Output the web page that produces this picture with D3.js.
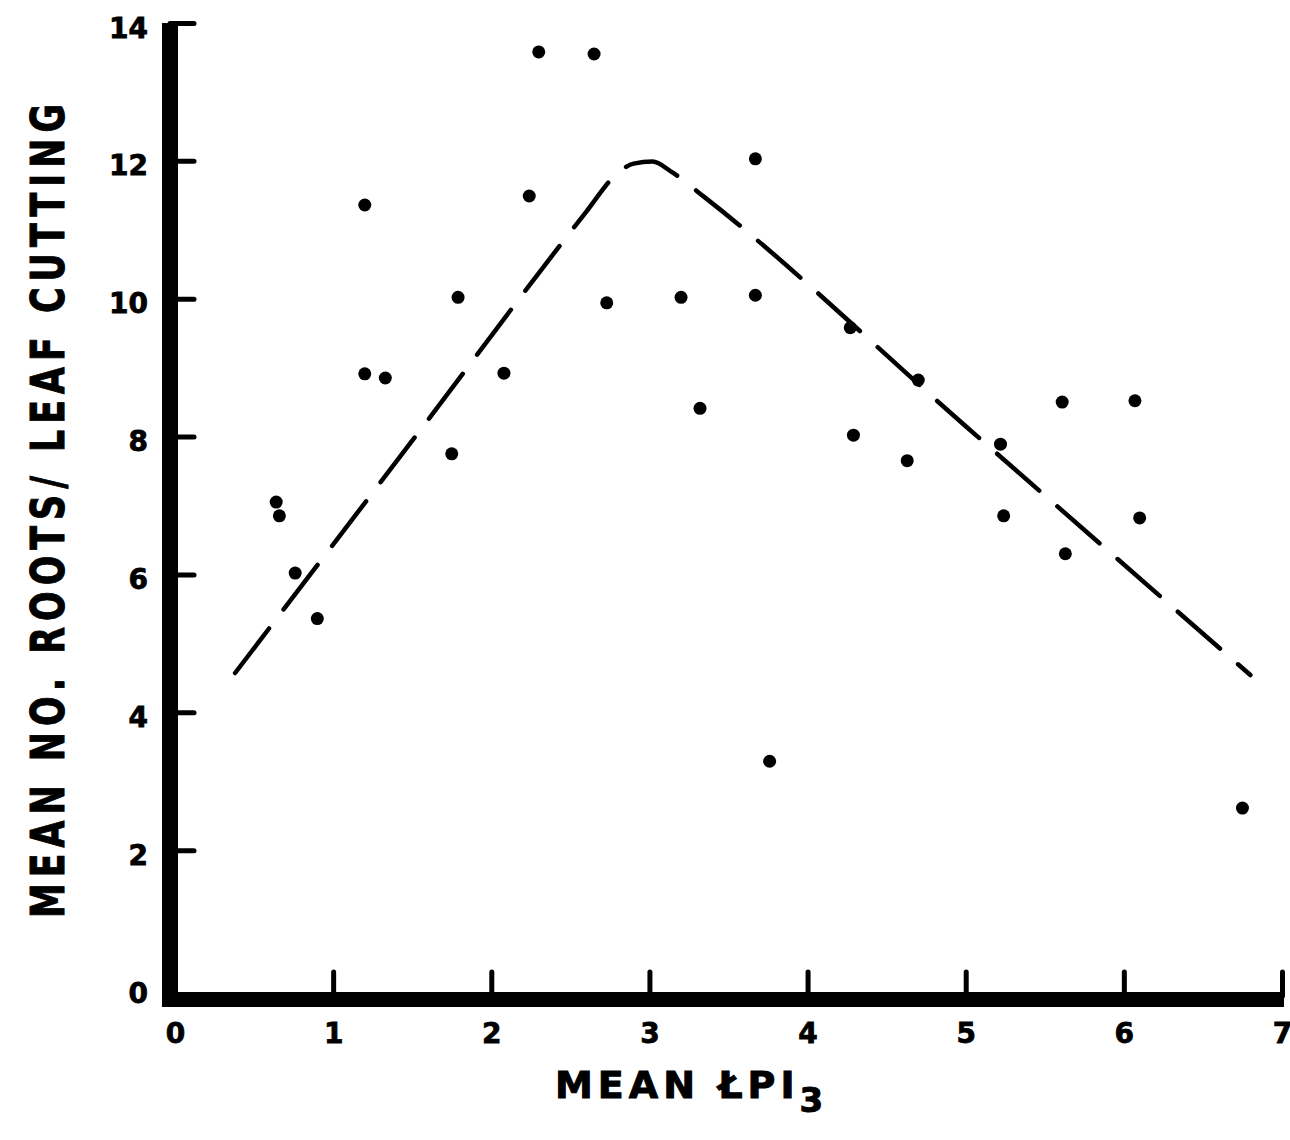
<!DOCTYPE html>
<html>
<head>
<meta charset="utf-8">
<script src="https://cdn.jsdelivr.net/npm/d3@7"></script>
<style>
  html, body { margin: 0; padding: 0; background: #ffffff; }
  svg { display: block; }
  .lbl { font-family: "DejaVu Sans", sans-serif; font-weight: bold; fill: #000; stroke: #000; }
</style>
</head>
<body>
<svg id="chart" width="1290" height="1140"></svg>
<script>
// Axis ticks
const xTicks = [0, 1, 2, 3, 4, 5, 6, 7];
const yTicks = [0, 2, 4, 6, 8, 10, 12, 14];

// Observed means: LPI3 (x) vs roots per leaf cutting (y)
const lpi = [0.64, 0.66, 0.76, 0.90, 1.20, 1.20, 1.33, 1.75, 1.79, 2.08, 2.24, 2.30,
             2.65, 2.73, 3.20, 3.32, 3.67, 3.67, 3.76, 4.27, 4.29, 4.63, 4.70, 5.22,
             5.24, 5.61, 5.63, 6.07, 6.10, 6.75];
const roots = [7.05, 6.85, 6.02, 5.36, 11.36, 8.91, 8.85, 7.75, 10.02, 8.92, 11.49, 13.58,
               13.55, 9.94, 10.02, 8.41, 12.03, 10.05, 3.29, 9.58, 8.02, 7.65, 8.82, 7.89,
               6.85, 8.50, 6.30, 8.52, 6.82, 2.61];

// Fitted response: rising limb, rounded optimum near LPI 3, falling limb
const fitX = [0.38, 1.50, 2.60, 2.78, 2.90, 3.02, 3.14, 3.35, 5.00, 6.80];
const fitY = [4.57, 7.94, 11.26, 11.78, 11.96, 11.99, 11.84, 11.47, 8.15, 4.54];

const svg = d3.select("#chart");

const x = d3.scaleLinear().domain([0, 7]).range([175, 1282]);
const y = d3.scaleLinear().domain([0, 14]).range([988, 23]);

// Heavy axis frame
svg.append("path")
  .attr("d", `M170,${y(14)} L170,1007`)
  .attr("stroke", "#000").attr("stroke-width", 16).attr("fill", "none");
svg.append("path")
  .attr("d", `M162,999.5 L1284,999.5`)
  .attr("stroke", "#000").attr("stroke-width", 15).attr("fill", "none");

// Y axis ticks and labels
const yAxis = svg.append("g")
  .attr("transform", "translate(194,0)")
  .call(d3.axisLeft(y).tickValues(yTicks).tickSize(24).tickPadding(22).tickFormat(d3.format("d")));
yAxis.select(".domain").remove();
yAxis.selectAll(".tick line").attr("stroke", "#000").attr("stroke-width", 5).attr("stroke-linecap", "round");
yAxis.selectAll(".tick text")
  .attr("class", "lbl")
  .attr("dy", "0.5em")
  .style("font-size", "28px")
  .style("stroke-width", "0.8px");
yAxis.selectAll(".tick").filter(d => d === 0).select("line").remove();

// X axis ticks and labels
const xAxis = svg.append("g")
  .attr("transform", "translate(0,972)")
  .call(d3.axisBottom(x).tickValues(xTicks).tickSize(24).tickPadding(27).tickFormat(d3.format("d")));
xAxis.select(".domain").remove();
xAxis.selectAll(".tick line").attr("stroke", "#000").attr("stroke-width", 5).attr("stroke-linecap", "round");
xAxis.selectAll(".tick").filter(d => d === 0).select("line").remove();
xAxis.selectAll(".tick text")
  .attr("class", "lbl")
  .style("font-size", "28px")
  .style("stroke-width", "0.8px");

// Dashed fitted curve
const line = d3.line()
  .x((d, i) => x(fitX[i]))
  .y((d, i) => y(fitY[i]))
  .curve(d3.curveMonotoneX);
svg.append("path")
  .attr("d", line(fitX))
  .attr("fill", "none")
  .attr("stroke", "#000")
  .attr("stroke-width", 4.5)
  .attr("stroke-linecap", "round")
  .attr("stroke-dasharray", "56 24");

// Data points
svg.append("g").selectAll("circle")
  .data(lpi)
  .join("circle")
  .attr("cx", (d, i) => x(d))
  .attr("cy", (d, i) => y(roots[i]))
  .attr("r", 6.5)
  .attr("fill", "#000");

// Y axis title
svg.append("text")
  .attr("class", "lbl")
  .attr("transform", "translate(64,508) rotate(-90)")
  .attr("text-anchor", "middle")
  .attr("textLength", 820)
  .attr("lengthAdjust", "spacingAndGlyphs")
  .style("font-size", "46px")
  .style("letter-spacing", "8px")
  .style("stroke-width", "1px")
  .text("MEAN NO.  ROOTS/ LEAF CUTTING");

// X axis title with subscript
const xt = svg.append("text")
  .attr("class", "lbl")
  .attr("x", 555)
  .attr("y", 1098)
  .style("font-size", "38px")
  .style("letter-spacing", "5px")
  .style("stroke-width", "1px");
xt.append("tspan").text("MEAN ŁPI");
xt.append("tspan").attr("dy", 14).style("font-size", "34px").text("3");
</script>
</body>
</html>
